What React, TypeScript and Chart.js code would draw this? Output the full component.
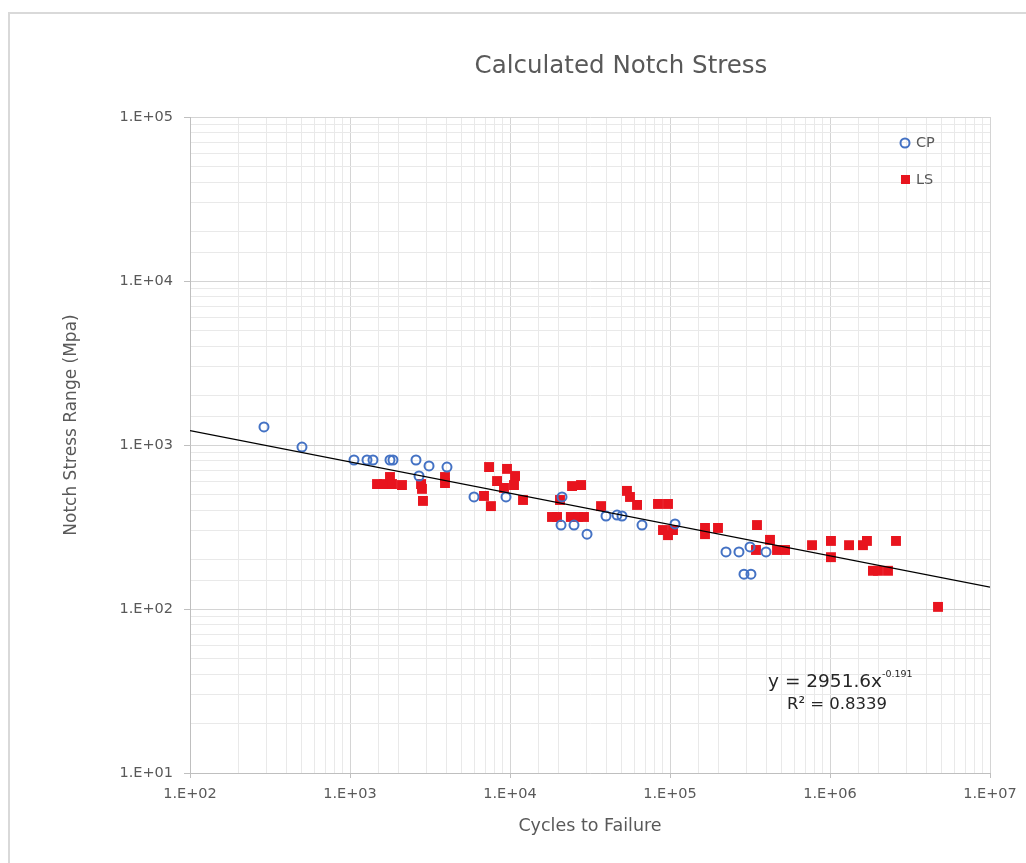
import React, { useEffect, useRef } from "react";
import { Chart, registerables } from "chart.js";

Chart.register(...registerables);

const chartTitle = "Calculated Notch Stress";
const xAxisTitle = "Cycles to Failure";
const yAxisTitle = "Notch Stress Range (Mpa)";
const seriesNames = ["CP", "LS"];
const equationMain = "y = 2951.6x";
const equationExp = "-0.191";
const rSquaredText = "R² = 0.8339";

const cpCycles = [290, 501, 1059, 1277, 1392, 1778, 1856, 2585, 2700, 3118, 4038, 5957, 9441, 21135, 20840, 25119, 30299, 39811, 46666, 50119, 66834, 107500, 223872, 269800, 316228, 290000, 320600, 398107];
const cpStress = [1288, 972, 810, 810, 810, 810, 810, 810, 647, 745, 734, 482, 482, 482, 325, 325, 286, 369, 374, 369, 325, 330, 223, 223, 239, 163, 163, 223];

const lsCycles = [1475, 1632, 1778, 1830, 2113, 2780, 2818, 2858, 3924, 3924, 6879, 7397, 7604, 8299, 9576, 10750, 9173, 10593, 12060, 18302, 19680, 20535, 24420, 27800, 24000, 26600, 29000, 37065, 53830, 56234, 62230, 84140, 97160, 90400, 97160, 104400, 165500, 165500, 199500, 349700, 421700, 344700, 466600, 523500, 772000, 1014000, 1014000, 1315000, 1607000, 1702000, 1856000, 1995000, 2304000, 2585000, 4732000];
const lsStress = [578, 578, 638, 578, 570, 578, 540, 456, 638, 586, 489, 734, 424, 603, 715, 647, 547, 570, 462, 364, 364, 462, 562, 570, 364, 364, 364, 424, 525, 482, 431, 437, 437, 303, 282, 303, 312, 286, 312, 325, 264, 229, 229, 229, 245, 260, 207, 245, 245, 260, 171, 171, 171, 260, 103];

const trendCycles = [100, 10000000];
const trendStress = [1224.8, 135.9];

const xMin = 100;
const xMax = 10000000;
const yMin = 10;
const yMax = 100000;

const FONT = '"DejaVu Sans", sans-serif';
const TEXT_COLOR = "#595959";

function isDecade(v: number) {
  const l = Math.log10(v);
  return Math.abs(l - Math.round(l)) < 1e-9;
}
function decadeLabel(v: number) {
  if (!isDecade(v)) return "";
  const e = Math.round(Math.log10(v));
  return "1.E+" + (e < 10 ? "0" + e : String(e));
}

const textPlugin = {
  id: "customTexts",
  afterDraw(chart: any) {
    const ctx = chart.ctx as CanvasRenderingContext2D;
    ctx.save();
    ctx.fillStyle = TEXT_COLOR;
    ctx.textBaseline = "middle";

    ctx.textAlign = "center";
    ctx.font = `24.5px ${FONT}`;
    ctx.fillText(chartTitle, 621, 67);

    ctx.font = `17.5px ${FONT}`;
    ctx.fillText(xAxisTitle, 590, 826);

    ctx.save();
    ctx.translate(72, 425);
    ctx.rotate(-Math.PI / 2);
    ctx.font = `17px ${FONT}`;
    ctx.fillText(yAxisTitle, 0, 0);
    ctx.restore();

    // legend
    ctx.beginPath();
    ctx.arc(905, 143, 4.5, 0, Math.PI * 2);
    ctx.strokeStyle = "#4472C4";
    ctx.lineWidth = 2;
    ctx.stroke();
    ctx.fillStyle = "#E8141E";
    ctx.fillRect(901, 175, 9, 9);
    ctx.fillStyle = TEXT_COLOR;
    ctx.textAlign = "left";
    ctx.font = `14.5px ${FONT}`;
    ctx.fillText(seriesNames[0], 916, 143);
    ctx.fillText(seriesNames[1], 916, 180);

    // equation
    ctx.fillStyle = "#262626";
    ctx.font = `18.5px ${FONT}`;
    ctx.textAlign = "right";
    ctx.fillText(equationMain, 882, 682);
    ctx.textAlign = "left";
    ctx.font = `9.5px ${FONT}`;
    ctx.fillText(equationExp, 882, 675);
    ctx.textAlign = "center";
    ctx.font = `16.5px ${FONT}`;
    ctx.fillText(rSquaredText, 837, 705);

    ctx.restore();
  },
};

export default function App() {
  const canvasRef = useRef<HTMLCanvasElement | null>(null);

  useEffect(() => {
    const canvas = canvasRef.current;
    if (!canvas) return;

    const cpData = cpCycles.map((x, i) => ({ x, y: cpStress[i] }));
    const lsData = lsCycles.map((x, i) => ({ x, y: lsStress[i] }));
    const trendData = trendCycles.map((x, i) => ({ x, y: trendStress[i] }));

    const gridColor = (c: any) => (c.tick && isDecade(c.tick.value) ? "#d4d4d4" : "#e9e9e9");
    const tickColor = (c: any) => (c.tick && isDecade(c.tick.value) ? "#bfbfbf" : "rgba(0,0,0,0)");

    const chart = new Chart(canvas, {
      type: "scatter",
      data: {
        datasets: [
          {
            label: "Trend",
            type: "line",
            data: trendData,
            borderColor: "#000000",
            borderWidth: 1.2,
            pointRadius: 0,
            fill: false,
            order: 0,
          } as any,
          {
            label: seriesNames[0],
            data: cpData,
            pointStyle: "circle",
            pointRadius: 4.5,
            pointBorderWidth: 2,
            borderColor: "#4472C4",
            backgroundColor: "rgba(255,255,255,0)",
            order: 1,
          },
          {
            label: seriesNames[1],
            data: lsData,
            pointStyle: "rect",
            pointRadius: 7,
            pointBorderWidth: 0,
            borderColor: "#E8141E",
            backgroundColor: "#E8141E",
            order: 2,
          },
        ],
      },
      options: {
        animation: false,
        responsive: false,
        events: [],
        layout: { padding: { left: 0, top: 117, right: 36, bottom: 0 } },
        plugins: {
          legend: { display: false },
          title: { display: false },
          tooltip: { enabled: false },
        },
        scales: {
          x: {
            type: "logarithmic",
            min: xMin,
            max: xMax,
            afterFit: (s: any) => {
              s.height = 90;
            },
            grid: { color: gridColor, tickColor, tickLength: 5, drawTicks: true, lineWidth: 1 },
            border: { display: true, color: "#bfbfbf", width: 1 },
            ticks: {
              autoSkip: false,
              maxRotation: 0,
              minRotation: 0,
              padding: 8,
              color: TEXT_COLOR,
              font: { family: FONT, size: 14.5 },
              callback: (v: any) => decadeLabel(Number(v)),
            },
          },
          y: {
            type: "logarithmic",
            min: yMin,
            max: yMax,
            afterFit: (s: any) => {
              s.width = 190;
            },
            grid: { color: gridColor, tickColor, tickLength: 6, drawTicks: true, lineWidth: 1 },
            border: { display: true, color: "#bfbfbf", width: 1 },
            ticks: {
              autoSkip: false,
              padding: 11,
              color: TEXT_COLOR,
              font: { family: FONT, size: 14.5 },
              callback: (v: any) => decadeLabel(Number(v)),
            },
          },
        },
      } as any,
      plugins: [textPlugin],
    });

    return () => chart.destroy();
  }, []);

  return (
    <div style={{ position: "fixed", left: 0, top: 0, width: 1026, height: 863, background: "#ffffff", overflow: "hidden" }}>
      <div
        style={{
          position: "absolute",
          left: 8,
          top: 12,
          width: 1100,
          height: 1000,
          border: "2px solid #d9d9d9",
          boxSizing: "border-box",
        }}
      />
      <canvas ref={canvasRef} width={1026} height={863} style={{ position: "absolute", left: 0, top: 0, display: "block" }} />
    </div>
  );
}
